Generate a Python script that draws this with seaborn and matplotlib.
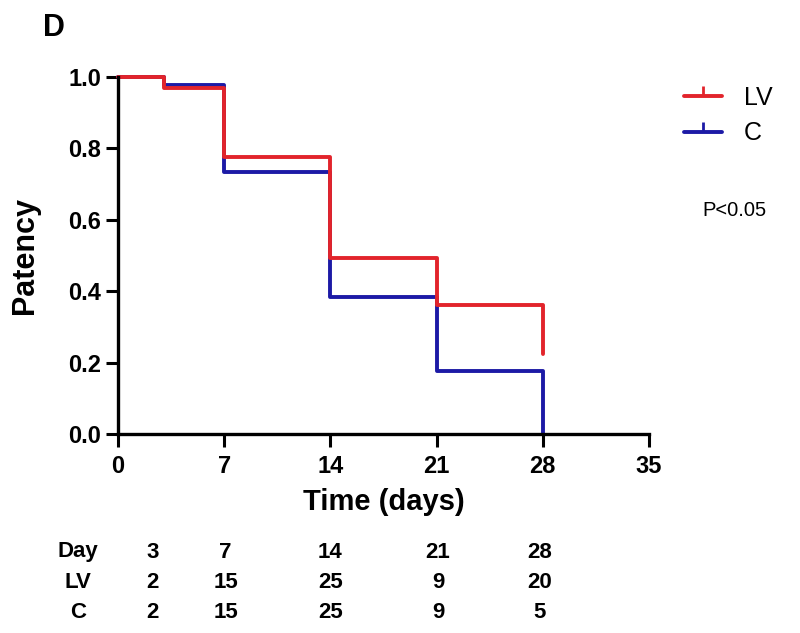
import numpy as np
import pandas as pd
import matplotlib
matplotlib.use("Agg")
import matplotlib.pyplot as plt
from matplotlib.lines import Line2D
import seaborn as sns

# ---- data ----
times = [0, 3, 7, 14, 21, 28]
lv_surv = [1.0, 0.970, 0.775, 0.492, 0.362, 0.225]
c_surv = [1.0, 0.978, 0.733, 0.385, 0.177, 0.0]
groups = ["LV", "C"]
x_ticks = [0, 7, 14, 21, 28, 35]
y_ticks = [0.0, 0.2, 0.4, 0.6, 0.8, 1.0]
table_days = [3, 7, 14, 21, 28]
table_lv = [2, 15, 25, 9, 20]
table_c = [2, 15, 25, 9, 5]
p_text = "P<0.05"

RED = "#e2242b"
BLUE = "#1c1aa6"

sns.set_style("ticks")
plt.rcParams["font.family"] = ["Liberation Sans", "DejaVu Sans"]
for k in ["text.color", "axes.labelcolor", "xtick.color", "ytick.color", "axes.edgecolor"]:
    plt.rcParams[k] = "black"

df = pd.DataFrame({
    "time": times + times,
    "surv": c_surv + lv_surv,
    "group": ["C"] * len(times) + ["LV"] * len(times),
})

fig = plt.figure(figsize=(8.0, 6.33), dpi=100)
W, H = 800, 633
x0, x1, ytop, ybot = 118, 649, 77, 434
ax = fig.add_axes([x0 / W, 1 - ybot / H, (x1 - x0) / W, (ybot - ytop) / H])

sns.lineplot(data=df, x="time", y="surv", hue="group", hue_order=["C", "LV"],
             palette={"C": BLUE, "LV": RED}, drawstyle="steps-post",
             linewidth=2.8, ax=ax, legend=False, clip_on=False, estimator=None)

ax.set_xlim(0, 35)
ax.set_ylim(0, 1.0)
ax.set_xticks(x_ticks)
ax.set_yticks(y_ticks)
ax.set_yticklabels([f"{v:.1f}" for v in y_ticks])
sns.despine(ax=ax)
for s in ["left", "bottom"]:
    ax.spines[s].set_linewidth(2.4)
    ax.spines[s].set_color("black")
ax.tick_params(axis="both", direction="out", length=9, width=2.2,
               labelsize=17, colors="black")
ax.tick_params(axis="x", pad=6)
ax.tick_params(axis="y", pad=3)
for lab in ax.get_xticklabels() + ax.get_yticklabels():
    lab.set_fontweight("bold")

ax.set_xlabel("Time (days)", fontsize=21, fontweight="bold")
ax.xaxis.set_label_coords(0.5, -(488 - ybot) / (ybot - ytop))
ax.xaxis.label.set_va("top")
ax.set_ylabel("Patency", fontsize=22, fontweight="bold")
ax.yaxis.set_label_coords(-(x0 - 40) / (x1 - x0), 0.5)

# panel letter
fig.text(54 / W, 1 - 28 / H, "D", fontsize=22, fontweight="bold",
         ha="center", va="center")

# legend
handles = [Line2D([0], [0], color=RED, lw=2.8, marker=2, markersize=7, markeredgewidth=2),
           Line2D([0], [0], color=BLUE, lw=2.8, marker=2, markersize=7, markeredgewidth=2)]
fig.legend(handles, groups, loc="upper left", bbox_to_anchor=(684 / W, 1 - 86 / H),
           frameon=False, fontsize=18, handlelength=1.5, handletextpad=0.9,
           labelspacing=0.45, borderpad=0, borderaxespad=0, numpoints=1)

fig.text(702 / W, 1 - 211 / H, p_text, fontsize=14.5, ha="left", va="center")

# numbers table below the axis (column centres in day units)
col_x = [2.3, 7.1, 14.0, 21.1, 27.8]
trans = matplotlib.transforms.blended_transform_factory(ax.transData, fig.transFigure)
rows = [("Day", table_days, 552), ("LV", table_lv, 582), ("C", table_c, 613)]
for name, vals, ypix in rows:
    fig.text(78 / W, 1 - ypix / H, name, fontsize=16, fontweight="bold",
             ha="center", va="center")
    for cx, v in zip(col_x, vals):
        ax.text(cx, 1 - ypix / H, str(v), transform=trans, fontsize=16,
                fontweight="bold", ha="center", va="center", clip_on=False)

fig.savefig("out.png", dpi=100)
